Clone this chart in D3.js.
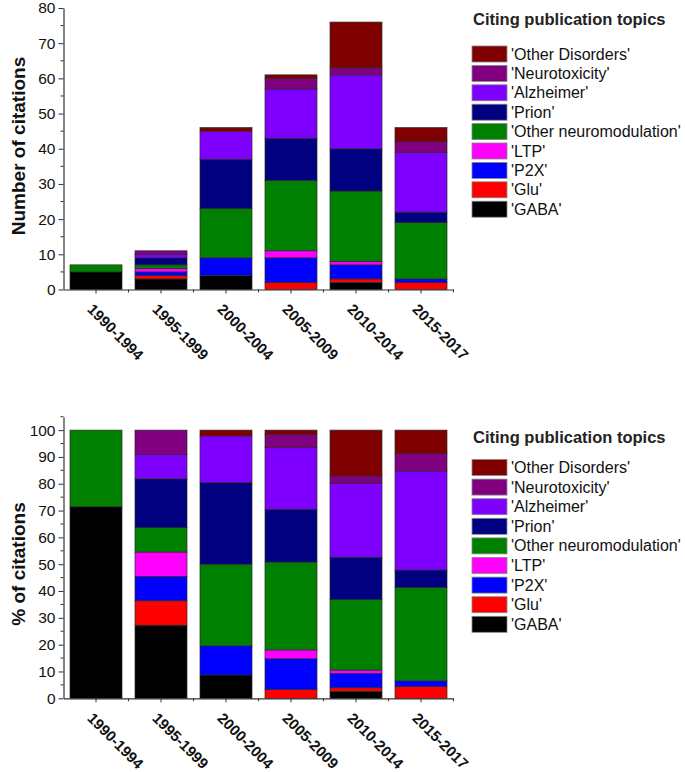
<!DOCTYPE html>
<html>
<head>
<meta charset="utf-8">
<script src="https://cdn.jsdelivr.net/npm/d3@7"></script>
<style>
  html, body { margin: 0; padding: 0; background: #fff; }
  svg { display: block; font-family: "Liberation Sans", Arial, sans-serif; }
</style>
</head>
<body>
<svg id="chart" width="685" height="772"></svg>
<script>
// ---------------- DATA ----------------
const periods = ["1990-1994", "1995-1999", "2000-2004", "2005-2009", "2010-2014", "2015-2017"];
// citation counts per topic (stack order bottom -> top)
const GABA          = [5, 3, 4, 0, 2, 0];
const Glu           = [0, 1, 0, 2, 1, 2];
const P2X           = [0, 1, 5, 7, 4, 1];
const LTP           = [0, 1, 0, 2, 1, 0];
const OtherNeuromod = [2, 1, 14, 20, 20, 16];
const Prion         = [0, 2, 14, 12, 12, 3];
const Alzheimer     = [0, 1, 8, 14, 21, 17];
const Neurotoxicity = [0, 1, 0, 3, 2, 3];
const OtherDisorders= [0, 0, 1, 1, 13, 4];

const topicNames  = ["'GABA'", "'Glu'", "'P2X'", "'LTP'", "'Other neuromodulation'", "'Prion'", "'Alzheimer'", "'Neurotoxicity'", "'Other Disorders'"];
const topicSeries = [GABA, Glu, P2X, LTP, OtherNeuromod, Prion, Alzheimer, Neurotoxicity, OtherDisorders];
const topicColors = ["#000000", "#ff0000", "#0000ff", "#ff00ff", "#008000", "#000080", "#8000ff", "#800080", "#800000"];

const countTicks   = [0, 10, 20, 30, 40, 50, 60, 70, 80];
const percentTicks = [0, 10, 20, 30, 40, 50, 60, 70, 80, 90, 100];
const legendTitle  = "Citing publication topics";

// ---------------- BUILD ----------------
const rows = periods.map((p, i) => {
  const r = { period: p };
  topicNames.forEach((t, k) => r[t] = topicSeries[k][i]);
  return r;
});

const svg = d3.select("#chart");
const color = d3.scaleOrdinal(topicNames, topicColors);

const x = d3.scaleBand(periods, [63.5, 453.5]).paddingInner(0.2).paddingOuter(0.1);

function drawPanel(cfg) {
  const g = svg.append("g");
  const y = d3.scaleLinear(cfg.domain, cfg.range);
  const stack = d3.stack().keys(topicNames);
  if (cfg.percent) stack.offset(d3.stackOffsetExpand);
  const series = stack(rows);
  const k = cfg.percent ? 100 : 1;

  // bars
  g.selectAll("g.layer").data(series).join("g")
    .attr("class", "layer")
    .attr("fill", d => color(d.key))
    .selectAll("rect").data(d => d.filter(s => s[1] - s[0] > 0)).join("rect")
    .attr("x", d => x(d.data.period))
    .attr("width", x.bandwidth())
    .attr("y", d => y(d[1] * k))
    .attr("height", d => y(d[0] * k) - y(d[1] * k))
    .attr("stroke", "#2a2a2a")
    .attr("stroke-width", 0.7);

  // y axis
  const yAxis = g.append("g").attr("transform", `translate(${x.range()[0]},0)`)
    .call(d3.axisLeft(y).tickValues(cfg.ticks).tickSize(5).tickSizeOuter(0).tickPadding(3));
  yAxis.select(".domain").attr("stroke", "#333").attr("stroke-width", 1.2);
  yAxis.selectAll(".tick line").attr("stroke", "#333");
  yAxis.selectAll(".tick text").attr("font-size", 15.5).attr("fill", "#111")
    .attr("font-family", "Liberation Sans, Arial, sans-serif");
  // minor y ticks
  const minor = d3.range(cfg.domain[0] + 5, cfg.domain[1] + 0.1, 10);
  yAxis.selectAll("line.minor").data(minor).join("line")
    .attr("class", "minor")
    .attr("x1", 0).attr("x2", -3)
    .attr("y1", d => y(d)).attr("y2", d => y(d))
    .attr("stroke", "#333");

  // x axis
  const y0 = y(0);
  const xAxis = g.append("g").attr("transform", `translate(0,${y0})`)
    .call(d3.axisBottom(x).tickSize(4).tickSizeOuter(0).tickFormat(""));
  xAxis.select(".domain").attr("stroke", "#333").attr("stroke-width", 1.2);
  xAxis.selectAll(".tick line").attr("stroke", "#333");
  const bounds = d3.range(0, periods.length + 1).map(i => x.range()[0] + i * x.step());
  xAxis.selectAll("line.minor").data(bounds.slice(1)).join("line")
    .attr("class", "minor")
    .attr("x1", d => d).attr("x2", d => d)
    .attr("y1", 0).attr("y2", 3)
    .attr("stroke", "#333");

  // rotated category labels
  g.selectAll("text.xlab").data(periods).join("text")
    .attr("class", "xlab")
    .attr("transform", d => `translate(${x(d) + x.bandwidth() / 2 + 19.5},${y0 + 42.5}) rotate(45)`)
    .attr("text-anchor", "middle")
    .attr("dy", "0.35em")
    .attr("font-size", 15)
    .attr("font-weight", "bold")
    .attr("fill", "#111")
    .text(d => d);

  // y title
  g.append("text")
    .attr("transform", `translate(25,${cfg.titleY}) rotate(-90)`)
    .attr("text-anchor", "middle")
    .attr("font-size", 19)
    .attr("font-weight", "bold")
    .attr("fill", "#111")
    .text(cfg.yTitle);

  // legend
  const lg = g.append("g");
  lg.append("text")
    .attr("x", 473).attr("y", cfg.legendTitleY)
    .attr("font-size", 16.5).attr("font-weight", "bold").attr("fill", "#222")
    .text(legendTitle);
  const legendOrder = topicNames.slice().reverse();
  const items = lg.selectAll("g.item").data(legendOrder).join("g")
    .attr("class", "item")
    .attr("transform", (d, i) => `translate(472,${cfg.legendTop + i * cfg.legendStep})`);
  items.append("rect")
    .attr("width", 35).attr("height", 16)
    .attr("fill", d => color(d))
    .attr("stroke", "#888").attr("stroke-width", 0.8);
  items.append("text")
    .attr("x", 39).attr("y", 13.5)
    .attr("font-size", 16).attr("fill", "#111")
    .text(d => d);
}

drawPanel({
  percent: false, domain: [0, 80], range: [289.5, 8], ticks: countTicks,
  yTitle: "Number of citations", titleY: 146,
  legendTitleY: 25, legendTop: 46, legendStep: 19.4
});
drawPanel({
  percent: true, domain: [0, 105], range: [698.3, 416.7], ticks: percentTicks,
  yTitle: "% of citations", titleY: 564,
  legendTitleY: 443, legendTop: 459.5, legendStep: 19.6
});
</script>
</body>
</html>
